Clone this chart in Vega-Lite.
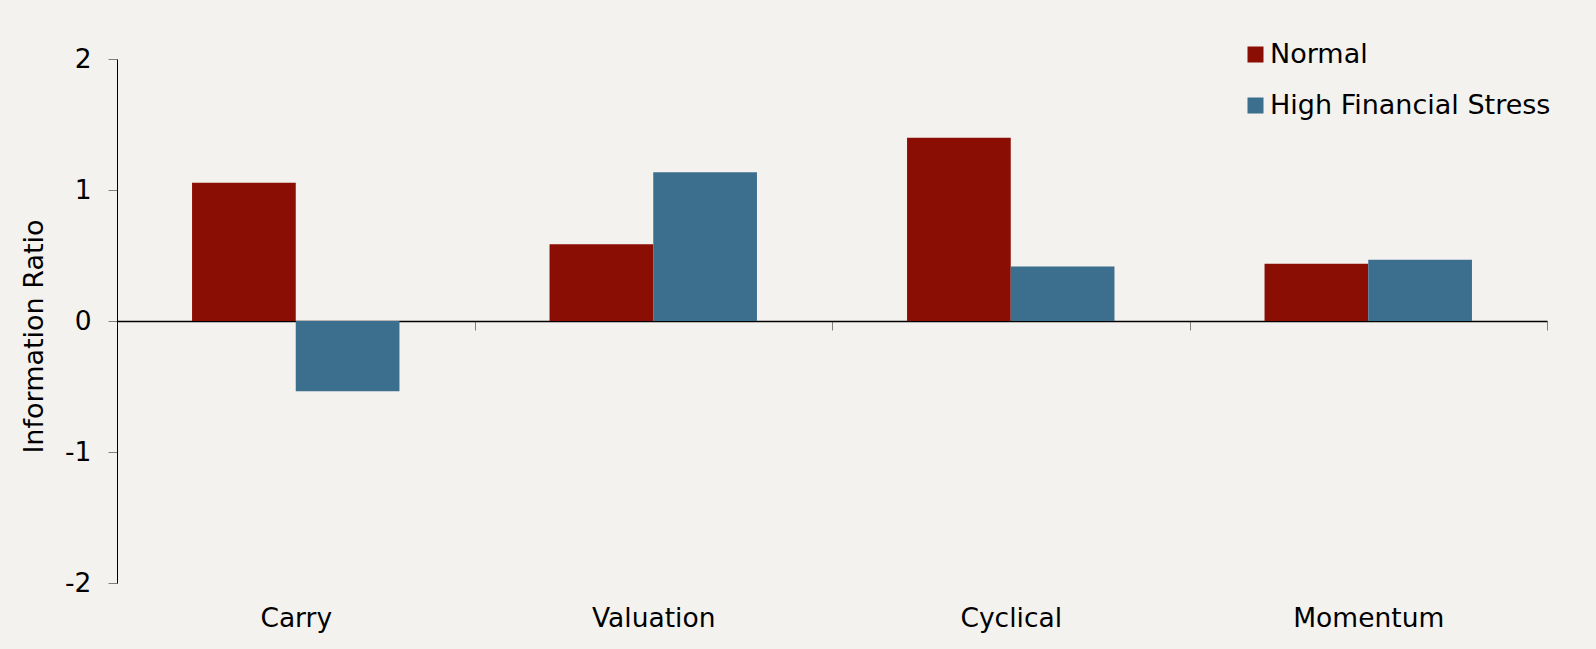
{
  "$schema": "https://vega.github.io/schema/vega-lite/v6.json",
  "width": 1430,
  "height": 524,
  "autosize": {"type": "none"},
  "padding": {"left": 117, "top": 59, "right": 49, "bottom": 66},
  "background": "#F4F2EE",
  "config": {"view": {"stroke": null}, "font": "DejaVu Sans"},
  "data": {
    "values": [
      {"factor": "Carry", "regime": "Normal", "value": 1.055},
      {"factor": "Carry", "regime": "High Financial Stress", "value": -0.536},
      {"factor": "Valuation", "regime": "Normal", "value": 0.586},
      {"factor": "Valuation", "regime": "High Financial Stress", "value": 1.136},
      {"factor": "Cyclical", "regime": "Normal", "value": 1.398},
      {"factor": "Cyclical", "regime": "High Financial Stress", "value": 0.416},
      {"factor": "Momentum", "regime": "Normal", "value": 0.437},
      {"factor": "Momentum", "regime": "High Financial Stress", "value": 0.467}
    ]
  },
  "mark": {"type": "bar"},
  "encoding": {
    "x": {
      "field": "factor",
      "type": "nominal",
      "sort": ["Carry", "Valuation", "Cyclical", "Momentum"],
      "scale": {"paddingInner": 0, "paddingOuter": 0},
      "axis": {
        "title": null,
        "offset": -262,
        "tickBand": "extent",
        "tickSize": 9,
        "tickColor": "#808080",
        "domainColor": "#000000",
        "domainWidth": 1.5,
        "labelAngle": 0,
        "labelFontSize": 26.5,
        "labelColor": "#000000",
        "labelPadding": 275
      }
    },
    "xOffset": {
      "field": "regime",
      "type": "nominal",
      "sort": ["Normal", "High Financial Stress"],
      "scale": {"paddingInner": 0, "paddingOuter": 0.7236}
    },
    "y": {
      "field": "value",
      "type": "quantitative",
      "scale": {"domain": [-2, 2], "nice": false},
      "axis": {
        "title": "Information Ratio",
        "values": [-2, -1, 0, 1, 2],
        "labelExpr": "'' + datum.value",
        "grid": false,
        "tickSize": 9,
        "tickColor": "#808080",
        "domainColor": "#000000",
        "domainWidth": 1,
        "labelFontSize": 26.5,
        "labelColor": "#000000",
        "labelPadding": 17,
        "titleFontSize": 27,
        "titleFontWeight": "normal",
        "titleColor": "#000000",
        "titleAngle": -90,
        "titleX": -83,
        "titleY": 277,
        "titleAlign": "center",
        "titleBaseline": "middle"
      }
    },
    "color": {
      "field": "regime",
      "type": "nominal",
      "sort": ["Normal", "High Financial Stress"],
      "scale": {"domain": ["Normal", "High Financial Stress"], "range": ["#8B0E04", "#3C6E8E"]},
      "legend": {
        "title": null,
        "orient": "none",
        "legendX": 1125,
        "legendY": -18,
        "symbolType": "square",
        "symbolSize": 256,
        "symbolStrokeWidth": 0,
        "symbolOpacity": 1,
        "labelFontSize": 27,
        "labelColor": "#000000",
        "labelOffset": 1,
        "labelLimit": 0,
        "rowPadding": 23
      }
    }
  }
}
